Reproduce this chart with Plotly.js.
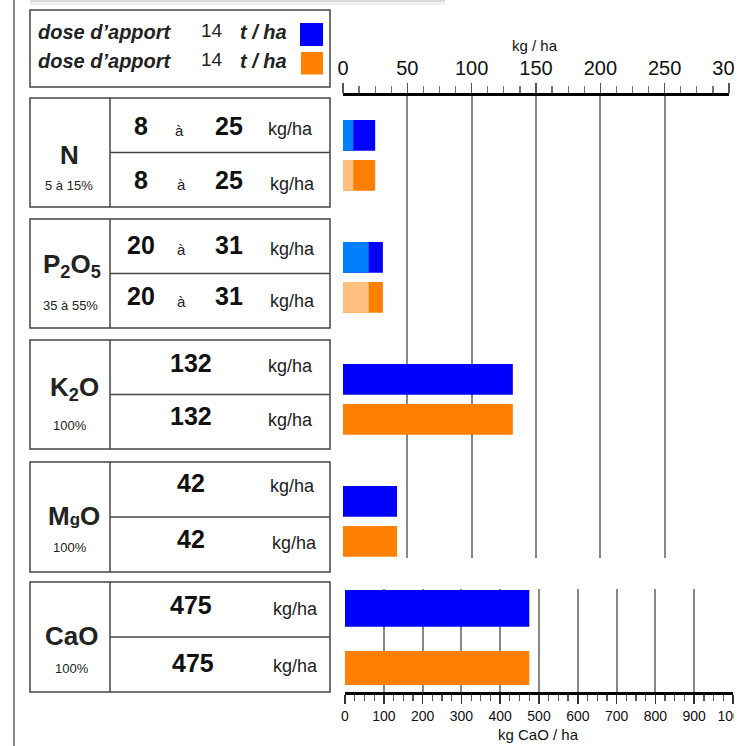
<!DOCTYPE html>
<html><head><meta charset="utf-8">
<script src="https://cdn.plot.ly/plotly-3.0.1.min.js"></script>
<style>html,body{margin:0;padding:0;background:#fff;}#chart{width:751px;height:746px;}</style>
</head><body><div id="chart"></div>
<script>
// ---------- data ----------
const nutrients = ['N', 'P2O5', 'K2O', 'MgO'];
const blueMax = [25, 31, 132, 42];
const blueMin = [8, 20, null, null];
const orangeMax = [25, 31, 132, 42];
const orangeMin = [8, 20, null, null];
const caoCat = ['CaO'];
const caoBlue = [475];
const caoOrange = [475];
const doses = [14, 14];
const nutrientLabels = ['N', 'P<sub>2</sub>O<sub>5</sub>', 'K<sub>2</sub>O', 'M<span style="font-size:17px">g</span>O', 'CaO'];
const percentLabels = ['5 à 15%', '35 à 55%', '100%', '100%', '100%'];
const gridKgHa = [50, 100, 150, 200, 250];
const gridCaO = [100, 200, 300, 400, 500, 600, 700, 800, 900];

// ---------- layout helpers ----------
const W = 751, H = 746;
const FONT = 'Liberation Sans, Arial, sans-serif';
const NARROW = 'Liberation Sans Narrow, Arial Narrow, Liberation Sans, sans-serif';
const px = x => x / W, py = y => 1 - y / H;
function A(text, x, base, size, o) {
  o = o || {};
  return {text: text, x: px(x), y: py(base - 0.3465 * size), xref: 'paper', yref: 'paper',
    showarrow: false, xanchor: o.xa || 'center', yanchor: 'middle',
    font: {family: o.f || FONT, size: size, color: o.c || '#1a1a1a', weight: o.w || 'normal', style: o.s || 'normal'}};
}
function R(x0, y0, x1, y1, o) {
  o = o || {};
  return {type: 'rect', xref: 'paper', yref: 'paper', x0: px(x0), x1: px(x1), y0: py(y1), y1: py(y0),
    line: {color: o.lc || '#444', width: o.lw === undefined ? 1.5 : o.lw}, fillcolor: o.fc || 'rgba(0,0,0,0)', layer: o.layer || 'below'};
}
function L(x0, y0, x1, y1, c, w) {
  return {type: 'line', xref: 'paper', yref: 'paper', x0: px(x0), x1: px(x1), y0: py(y0), y1: py(y1),
    line: {color: c || '#444', width: w || 1.5}, layer: 'below'};
}

// table geometry (layout only)
const boxTop = [98, 219, 340, 462, 582];
const boxBot = [207, 328, 449, 572, 692];
const numBase = [[134.3, 188.3], [253.3, 305], [371.7, 425], [491.7, 547.3], [613.3, 671.7]];
const unitBase = [[135.7, 190], [255, 307], [372.7, 426], [492, 549], [615.7, 672.3]];
const unitX = [[290.8, 292.5], [292.5, 292.5], [290.8, 290.8], [292.8, 294.7], [295, 295]];
const singleX = [[191, 191], [191, 191], [191.2, 191.2], [190.8, 190.8], [190.8, 192.7]];
const aX = [[179, 181], [181.7, 181.5]];
const labelX = [69.2, 71.5, 74.5, 74, 71.7], labelBase = [164, 275, 398, 525, 645];
const pctX = [68.8, 70, 70, 70.3, 72], pctBase = [190, 310, 430, 551.7, 672.7];

const shapes = [];
const annotations = [];

// page decorations
shapes.push(L(14, 0, 14, 746, '#8a8a8a', 2));
shapes.push(R(30, -4, 445, 2, {lw: 0, fc: '#dadada'}));
shapes.push(R(30, 2, 445, 5, {lw: 0, fc: '#f0f0f0'}));

// legend box
shapes.push(R(30, 10, 330, 87));
shapes.push(R(300, 23, 323, 46, {lw: 0, fc: '#0000FF'}));
shapes.push(R(301, 52, 323, 74.5, {lw: 0, fc: '#FF8000'}));
[39.3, 68.3].forEach((b, i) => {
  annotations.push(A('dose d’apport', 36, b, 20, {xa: 'left', w: 'bold', s: 'italic', c: '#222'}));
  annotations.push(A(String(doses[i]), 211.7, b - 2.6, 19, {c: '#222'}));
  annotations.push(A('t / ha', 263.3, b, 20, {w: 'bold', s: 'italic', c: '#222'}));
});

// table
const allMax = blueMax.concat(caoBlue);
const allMin = blueMin.concat([null]);
const allMax2 = orangeMax.concat(caoOrange);
const allMin2 = orangeMin.concat([null]);
for (let i = 0; i < 5; i++) {
  const t = boxTop[i], b = boxBot[i], m = (t + b) / 2;
  shapes.push(R(30, t, 330, b));
  shapes.push(L(110, t, 110, b));
  shapes.push(L(110, m, 330, m));
  annotations.push(A(nutrientLabels[i], labelX[i], labelBase[i], 26, {w: 'bold', c: '#222'}));
  annotations.push(A(percentLabels[i], pctX[i], pctBase[i], 13, {f: NARROW, c: '#222'}));
  [[allMin[i], allMax[i]], [allMin2[i], allMax2[i]]].forEach((v, r) => {
    if (v[0] !== null) {
      annotations.push(A(String(v[0]), 141.2, numBase[i][r], 25, {w: 'bold', c: '#111'}));
      annotations.push(A('à', aX[i][r], unitBase[i][r], 15, {c: '#222'}));
      annotations.push(A(String(v[1]), 228.5, numBase[i][r], 25, {w: 'bold', c: '#111'}));
    } else {
      annotations.push(A(String(v[1]), singleX[i][r], numBase[i][r], 25, {w: 'bold', c: '#111'}));
    }
    annotations.push(A('kg/ha', unitX[i][r], unitBase[i][r], 18, {c: '#222'}));
  });
}

// axis titles
annotations.push(A('kg / ha', 535, 50.7, 15, {c: '#111'}));
annotations.push(A('kg CaO / ha', 538.8, 739.3, 15, {c: '#111'}));

// clip right edge like the reference
shapes.push(Object.assign(R(734, -10, 800, 760, {lw: 0, fc: '#ffffff'}), {layer: 'above'}));

// ---------- traces ----------
const topCommon = {type: 'bar', orientation: 'h', xaxis: 'x', yaxis: 'y', width: 0.2516, hoverinfo: 'x+y'};
const traces = [
  Object.assign({}, topCommon, {name: 'bleu', y: nutrients, x: blueMax, offset: -0.2902, marker: {color: '#0000FF'}}),
  Object.assign({}, topCommon, {name: 'bleu min', y: nutrients, x: blueMin, offset: -0.2902, marker: {color: '#0080FF'}}),
  Object.assign({}, topCommon, {name: 'orange', y: nutrients, x: orangeMax, offset: 0.0377, marker: {color: '#FF8000'}}),
  Object.assign({}, topCommon, {name: 'orange min', y: nutrients, x: orangeMin, offset: 0.0377, marker: {color: '#FFC080'}}),
  {type: 'bar', orientation: 'h', xaxis: 'x2', yaxis: 'y2', name: 'CaO bleu', y: caoCat, x: caoBlue, offset: -0.490, width: 0.356, marker: {color: '#0000FF'}},
  {type: 'bar', orientation: 'h', xaxis: 'x2', yaxis: 'y2', name: 'CaO orange', y: caoCat, x: caoOrange, offset: 0.102, width: 0.330, marker: {color: '#FF8000'}},
  // empty helper traces so the grid-only overlay axes are created
  {type: 'scatter', mode: 'lines', x: [], y: [], xaxis: 'x3', yaxis: 'y', hoverinfo: 'skip'},
  {type: 'scatter', mode: 'lines', x: [], y: [], xaxis: 'x4', yaxis: 'y2', hoverinfo: 'skip'}
];

const layout = {
  width: W, height: H, margin: {l: 0, r: 0, t: 0, b: 0},
  paper_bgcolor: '#ffffff', plot_bgcolor: 'rgba(0,0,0,0)',
  showlegend: false, barmode: 'overlay',
  font: {family: FONT, color: '#111'},
  xaxis: {domain: [px(343), px(729)], range: [0, 300], anchor: 'y', side: 'top',
    showgrid: false, zeroline: false, showline: true, linecolor: '#000', linewidth: 3,
    ticks: 'outside', ticklen: 10, tickwidth: 1.5, tickcolor: '#555',
    tickmode: 'linear', tick0: 0, dtick: 50, tickfont: {size: 20, color: '#111'},
    minor: {dtick: 12.5, ticklen: 7, tickwidth: 1.2, tickcolor: '#777', showgrid: false, ticks: 'outside'},
    fixedrange: true},
  xaxis3: {overlaying: 'x', range: [0, 300], anchor: 'y', side: 'top',
    tickmode: 'array', tickvals: gridKgHa, showticklabels: false, ticks: '',
    showgrid: true, gridcolor: '#888888', gridwidth: 2, zeroline: false, showline: false, fixedrange: true},
  yaxis: {domain: [py(558), py(96)], type: 'category', range: [3.300, -0.4869], visible: false, anchor: 'x', fixedrange: true},
  xaxis2: {domain: [px(345), px(733)], range: [0, 1000], anchor: 'y2', side: 'bottom',
    showgrid: false, zeroline: false, showline: true, linecolor: '#000', linewidth: 3,
    ticks: 'outside', ticklen: 9, tickwidth: 1.5, tickcolor: '#333',
    tickmode: 'linear', tick0: 0, dtick: 100, tickfont: {size: 14, color: '#111'},
    minor: {dtick: 25, ticklen: 6, tickwidth: 1.2, tickcolor: '#555', showgrid: false, ticks: 'outside'},
    fixedrange: true},
  xaxis4: {overlaying: 'x2', range: [0, 1000], anchor: 'y2', side: 'bottom',
    tickmode: 'array', tickvals: gridCaO, showticklabels: false, ticks: '',
    showgrid: true, gridcolor: '#888888', gridwidth: 2, zeroline: false, showline: false, fixedrange: true},
  yaxis2: {domain: [py(692), py(589)], type: 'category', range: [0.5, -0.5], visible: false, anchor: 'x2', fixedrange: true},
  shapes: shapes,
  annotations: annotations
};

Plotly.newPlot('chart', traces, layout, {staticPlot: true, displayModeBar: false});
</script></body></html>
